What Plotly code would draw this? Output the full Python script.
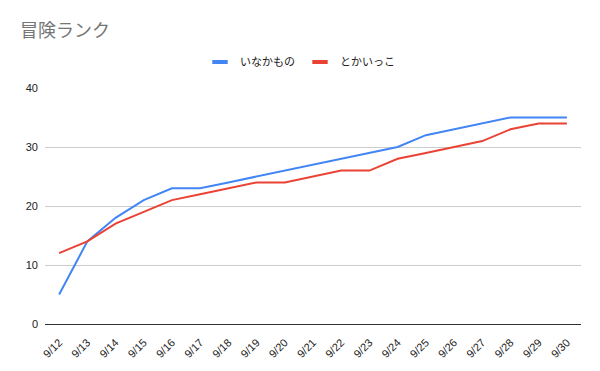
import plotly.graph_objects as go

dates = ["9/12", "9/13", "9/14", "9/15", "9/16", "9/17", "9/18", "9/19", "9/20", "9/21",
         "9/22", "9/23", "9/24", "9/25", "9/26", "9/27", "9/28", "9/29", "9/30"]
inakamono = [5, 14, 18, 21, 23, 23, 24, 25, 26, 27, 28, 29, 30, 32, 33, 34, 35, 35, 35]
tokaikko = [12, 14, 17, 19, 21, 22, 23, 24, 24, 25, 26, 26, 28, 29, 30, 31, 33, 34, 34]
series_names = ["いなかもの", "とかいっこ"]
series_colors = ["#4285F4", "#EA4335"]

FONT = "Liberation Sans, Arial, Noto Sans CJK JP, sans-serif"

fig = go.Figure()
for name, vals, col in zip(series_names, [inakamono, tokaikko], series_colors):
    fig.add_trace(go.Scatter(x=dates, y=vals, name=name, mode="lines",
                             line=dict(color=col, width=2), showlegend=False))
    # legend swatch: short thick bar like the reference
    fig.add_trace(go.Scatter(x=[None], y=[None], name=name, mode="markers",
                             marker=dict(symbol="line-ew", size=11, color=col,
                                         line=dict(color=col, width=4)),
                             showlegend=True))

fig.update_layout(
    width=600, height=371,
    margin=dict(l=45, r=19, t=88, b=47, autoexpand=False),
    paper_bgcolor="white", plot_bgcolor="white",
    font=dict(family=FONT, size=11, color="#222222"),
    title=dict(text="冒険ランク", x=20 / 600, xanchor="left", xref="container",
               y=1 - 31 / 371, yanchor="middle", yref="container", pad=dict(l=0, t=0),
               font=dict(family="Noto Sans CJK JP, sans-serif", size=18, color="#757575")),
    legend=dict(orientation="h", x=0.5, xanchor="center", xref="container",
                y=1 - 62 / 371, yanchor="middle", yref="container",
                font=dict(family="Noto Sans CJK JP, sans-serif", size=11, color="#222222"),
                itemsizing="trace", itemwidth=30),
    showlegend=True,
)
fig.update_xaxes(type="category", range=[-0.5, 18.5], tickangle=-45, showgrid=False,
                 showline=False, ticks="", automargin=False, ticklabelstandoff=9,
                 tickfont=dict(size=11, color="#222222"))
fig.update_yaxes(range=[0, 40], tickvals=[0, 10, 20, 30, 40], showgrid=True,
                 gridcolor="#cccccc", gridwidth=1, zeroline=True, zerolinecolor="#333333",
                 zerolinewidth=1, ticks="", automargin=False, ticklabelstandoff=6,
                 tickfont=dict(size=11, color="#222222"))

fig.write_html("out.html", config={"displayModeBar": False},
               post_script="document.body.style.margin='0';")
